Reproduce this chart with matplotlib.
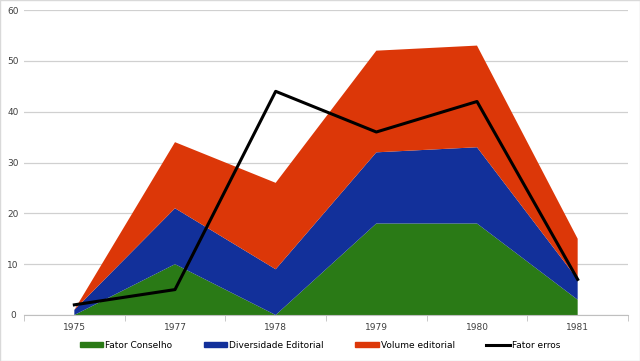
import numpy as np
import matplotlib.pyplot as plt
from matplotlib.lines import Line2D
from matplotlib.patches import Patch

# dados do grafico
anos = ["1975", "1977", "1978", "1979", "1980", "1981"]
fator_conselho = [0, 10, 0, 18, 18, 3]
diversidade_editorial = [1, 11, 9, 14, 15, 4]
volume_editorial = [0, 13, 17, 20, 20, 8]
fator_erros = [2, 5, 44, 36, 42, 7]

cores = ["#2a7a16", "#12309a", "#dc3708"]

fig = plt.figure(figsize=(6.4, 3.61), dpi=100)
ax = fig.add_axes([24 / 640, 1 - 315 / 361, 604 / 640, 305 / 361])

x = np.arange(len(anos))
ax.stackplot(x, fator_conselho, diversidade_editorial, volume_editorial,
             colors=cores, zorder=2)
ax.plot(x, fator_erros, color="black", lw=2.2, zorder=3)

ax.set_xlim(-0.5, len(anos) - 0.5)
ax.set_ylim(0, 60)
ax.set_yticks(range(0, 61, 10))
ax.set_xticks(x)
ax.set_xticklabels(anos)
ax.set_xticks(np.arange(-0.5, len(anos), 1), minor=True)
ax.tick_params(axis="x", which="major", length=0, labelsize=6.5, pad=6, colors="#404040")
ax.tick_params(axis="x", which="minor", length=4, color="#bfbfbf", direction="out")
ax.tick_params(axis="y", length=0, labelsize=6.5, pad=8, colors="#404040")
for lab in ax.get_yticklabels():
    lab.set_horizontalalignment("center")
ax.grid(axis="y", color="#d0d0d0", lw=0.9, zorder=0)
ax.set_axisbelow(True)
for s in ["top", "right", "left"]:
    ax.spines[s].set_visible(False)
ax.spines["bottom"].set_color("#bfbfbf")

handles = [Patch(color=cores[0]), Patch(color=cores[1]), Patch(color=cores[2]),
           Line2D([], [], color="black", lw=2.2)]
nomes = ["Fator Conselho", "Diversidade Editorial", "Volume editorial", "Fator erros"]
fig.legend(handles, nomes, loc="center", bbox_to_anchor=(0.5, 1 - 345 / 361), ncol=4,
           frameon=False, fontsize=6.5, handlelength=2.6, handleheight=0.5,
           columnspacing=3.5, handletextpad=0.2)

fig.patches.append(plt.Rectangle((0, 0), 1, 1, transform=fig.transFigure,
                                 fill=False, ec="#d9d9d9", lw=1))

fig.savefig("out.png", dpi=100)
